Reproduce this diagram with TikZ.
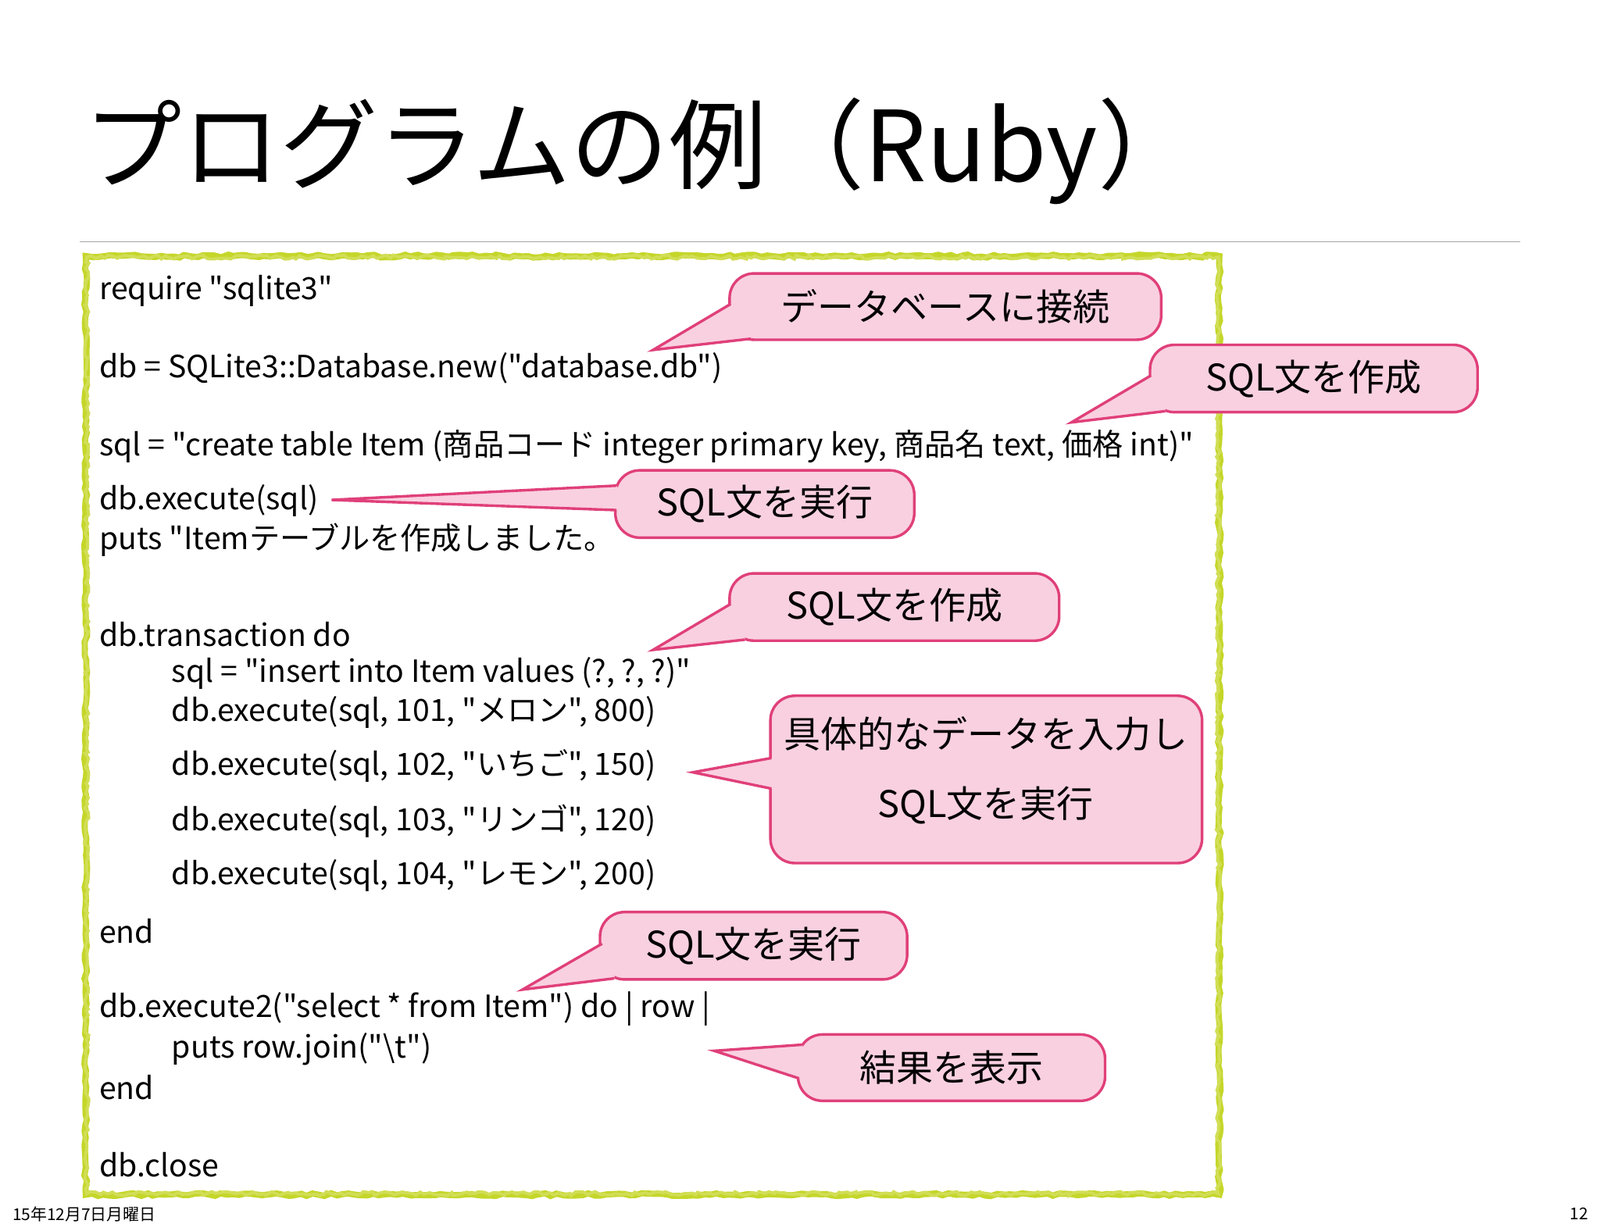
\documentclass[tikz,border=0pt]{standalone}
\usepackage{fontspec}
\setmainfont{Noto Sans CJK JP}[Ligatures=TeXOff]
\usetikzlibrary{decorations.pathmorphing,calc}
\definecolor{cpink}{HTML}{F9D0E0}
\definecolor{cedge}{HTML}{E0407A}
\definecolor{cgreen}{HTML}{C5D62A}
\tikzset{
 code/.style={anchor=west,inner sep=0pt,font=\fontsize{15}{18}\selectfont},
 ctext/.style={inner sep=0pt,font=\fontsize{18}{22}\selectfont,align=center},
 cbox/.style={fill=cpink,draw=cedge,line width=1.3pt,rounded corners=12pt},
}
\newcommand{\mycallout}[9]{%
 \draw[cbox] (#1,#2) rectangle (#3,#4);
 \coordinate (#5-a) at #6; \coordinate (#5-t) at #7; \coordinate (#5-b) at #8;
 \fill[cpink] (#5-a) -- (#5-t) -- (#5-b) -- ($(#5-a)!0.5!(#5-b)+(8,0)$) -- cycle;
 \draw[cedge,line width=1.3pt,line join=miter] (#5-a) -- (#5-t) -- (#5-b);
 \node[ctext] (#5) at ({(#1+#3)/2},{(#2+#4)/2}) {#9};}
\begin{document}
\begin{tikzpicture}[x=0.5pt,y=-0.5pt]
\useasboundingbox[fill=white] (0,0) rectangle (1568,1206);
\node[anchor=west,inner sep=0pt,font=\fontsize{48}{58}\selectfont] (title) at (82,148) {プログラムの例（Ruby）};
\draw[gray!70,line width=0.6pt] (78,237) -- (1490,237);
\draw[cgreen,line width=3pt,decorate,decoration={random steps,segment length=3pt,amplitude=0.7pt}] (84,251) rectangle (1195,1171);
\draw[cgreen!80!white,line width=1.5pt,decorate,decoration={random steps,segment length=2pt,amplitude=1pt}] (85,252) rectangle (1194,1170);
\node[code] (l1) at (97,285) {require "sqlite3"};
\node[code] (l2) at (97,361) {db = SQLite3::Database.new("database.db")};
\node[code] (l3) at (97,438) {sql = "create table Item (商品コード integer primary key, 商品名 text, 価格 int)"};
\node[code] (l4) at (97,491) {db.execute(sql)};
\node[code] (l5) at (97,529) {puts "Itemテーブルを作成しました。};
\node[code] (l6) at (97,622) {db.transaction do};
\node[code] (l7) at (168,660) {sql = "insert into Item values (?, ?, ?)"};
\node[code] (l8) at (168,698) {db.execute(sql, 101, "メロン", 800)};
\node[code] (l9) at (168,751) {db.execute(sql, 102, "いちご", 150)};
\node[code] (l10) at (168,805) {db.execute(sql, 103, "リンゴ", 120)};
\node[code] (l11) at (168,858) {db.execute(sql, 104, "レモン", 200)};
\node[code] (l12) at (97,913) {end};
\node[code] (l13) at (97,989) {db.execute2("select * from Item") do | row |};
\node[code] (l14) at (168,1028) {puts row.join("\textbackslash t")};
\node[code] (l15) at (97,1066) {end};
\node[code] (l16) at (97,1142) {db.close};
\mycallout{715}{268}{1138}{333}{c1}{(716,298)}{(640,343)}{(736,332)}{データベースに接続}
\mycallout{1127}{338}{1448}{404}{c2}{(1128,368)}{(1050,414)}{(1142,403)}{SQL文を作成}
\mycallout{603}{461}{896}{527}{c3}{(604,476)}{(325,490)}{(604,500)}{SQL文を実行}
\mycallout{715}{562}{1038}{628}{c4}{(716,592)}{(640,637)}{(730,627)}{SQL文を作成}
\draw[cbox] (755,682) rectangle (1178,846);
\coordinate (c5-a) at (756,743); \coordinate (c5-t) at (679,757); \coordinate (c5-b) at (756,773);
\fill[cpink] (c5-a) -- (c5-t) -- (c5-b) -- (764,758) -- cycle;
\draw[cedge,line width=1.3pt] (c5-a) -- (c5-t) -- (c5-b);
\node[ctext] (c5) at (966,755) {具体的なデータを入力し\\[12pt]SQL文を実行};
\mycallout{588}{894}{889}{960}{c6}{(590,925)}{(512,970)}{(602,959)}{SQL文を実行}
\mycallout{782}{1014}{1083}{1079}{c7}{(786,1024)}{(700,1030)}{(783,1057)}{結果を表示}
\node[anchor=west,inner sep=0pt,font=\fontsize{8}{10}\selectfont] (date) at (12,1190) {15年12月7日月曜日};
\node[anchor=east,inner sep=0pt,font=\fontsize{8}{10}\selectfont] (page) at (1557,1190) {12};
\end{tikzpicture}
\end{document}
